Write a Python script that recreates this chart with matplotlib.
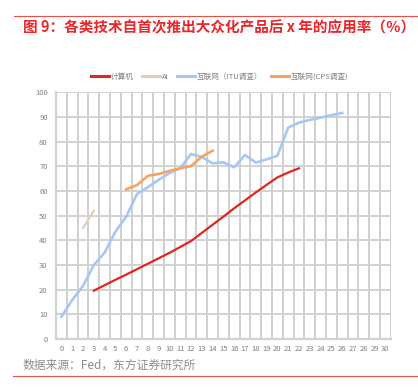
import matplotlib.pyplot as plt
import numpy as np
from matplotlib.lines import Line2D

plt.rcParams['font.family'] = ['Noto Sans CJK SC', 'DejaVu Sans']

# Years after first mass-market product
years = list(range(0, 31))

# Adoption rate (%) by technology
computer_x = list(range(3, 23))
computer_y = [19.6, 21.8, 24.0, 26.1, 28.3, 30.5, 32.7, 34.9, 37.3, 39.7,
              43.0, 46.3, 49.6, 53.0, 56.2, 59.4, 62.5, 65.5, 67.5, 69.2]

ai_x = [2, 3]
ai_y = [45, 52]

itu_x = list(range(0, 27))
itu_y = [9, 15.8, 21.5, 30, 35, 43.5, 49.6, 58.8, 61.5, 64.5, 67.2, 69.2, 75,
         73.8, 71.2, 71.6, 69.6, 74.6, 71.5, 72.8, 74.3, 85.7, 87.7, 88.8,
         89.7, 90.7, 91.6]

cps_x = list(range(6, 15))
cps_y = [60.7, 62.4, 66.1, 66.9, 68.1, 69.2, 70.1, 73.9, 76.3]

fig = plt.figure(figsize=(4.18, 3.91), dpi=100)
ax = fig.add_axes([0.134, 0.133, 0.801, 0.631])

# grid: horizontal every 10, vertical at category boundaries
for yv in range(10, 101, 10):
    ax.axhline(yv, color='#d2d2d2', lw=1.4, zorder=0)
for i in range(len(years) + 1):
    ax.axvline(i - 0.5, color='#d0d0d0', lw=1.4, zorder=0)

ax.plot(computer_x, computer_y, color='#e0261f', lw=1.6, label='计算机')
ax.plot(ai_x, ai_y, color='#ddd0b8', lw=1.6, label='AI')
ax.plot(itu_x, itu_y, color='#a8c7f5', lw=1.9, label='互联网（ITU调查）')
ax.plot(cps_x, cps_y, color='#f5a262', lw=1.9, label='互联网(CPS调查)')

ax.set_xlim(-0.5, 30.5)
ax.set_ylim(0, 100)
ax.set_xticks(years)
ax.set_xticklabels([str(y) for y in years])
ax.set_yticks(range(0, 101, 10))
ax.tick_params(axis='both', length=0, labelsize=5.5, colors='#808080')
ax.tick_params(axis='x', pad=4)
ax.tick_params(axis='y', pad=6)
for side in ['top', 'right']:
    ax.spines[side].set_visible(False)
for side in ['left', 'bottom']:
    ax.spines[side].set_color('#d2d2d2')
    ax.spines[side].set_linewidth(1.6)

# legend
handles, labels = ax.get_legend_handles_labels()
leg = fig.legend(handles, labels, loc='center', bbox_to_anchor=(0.525, 1 - 77 / 391),
                 ncol=4, frameon=False, fontsize=5.5, handlelength=2.4,
                 columnspacing=1.1, handletextpad=0.2, labelcolor='#808080')
for h in leg.get_lines():
    h.set_linewidth(2.2)

# title and decoration lines
fig.add_artist(Line2D([14 / 418, 1], [1 - 16 / 391, 1 - 16 / 391],
                      color='#e8504a', lw=0.8))
fig.text(23 / 418, 1 - 27 / 391, '图 9：各类技术自首次推出大众化产品后 x 年的应用率（％）',
         color='#e8262b', fontsize=10.5, fontweight='bold', va='center', ha='left')

fig.text(23 / 418, 1 - 365 / 391, '数据来源：Fed，东方证券研究所',
         color='#8c8c8c', fontsize=8.5, va='center', ha='left')
fig.add_artist(Line2D([13 / 418, 1], [1 - 376 / 391, 1 - 376 / 391],
                      color='#e8504a', lw=0.8))

fig.savefig('out.png', dpi=100)
